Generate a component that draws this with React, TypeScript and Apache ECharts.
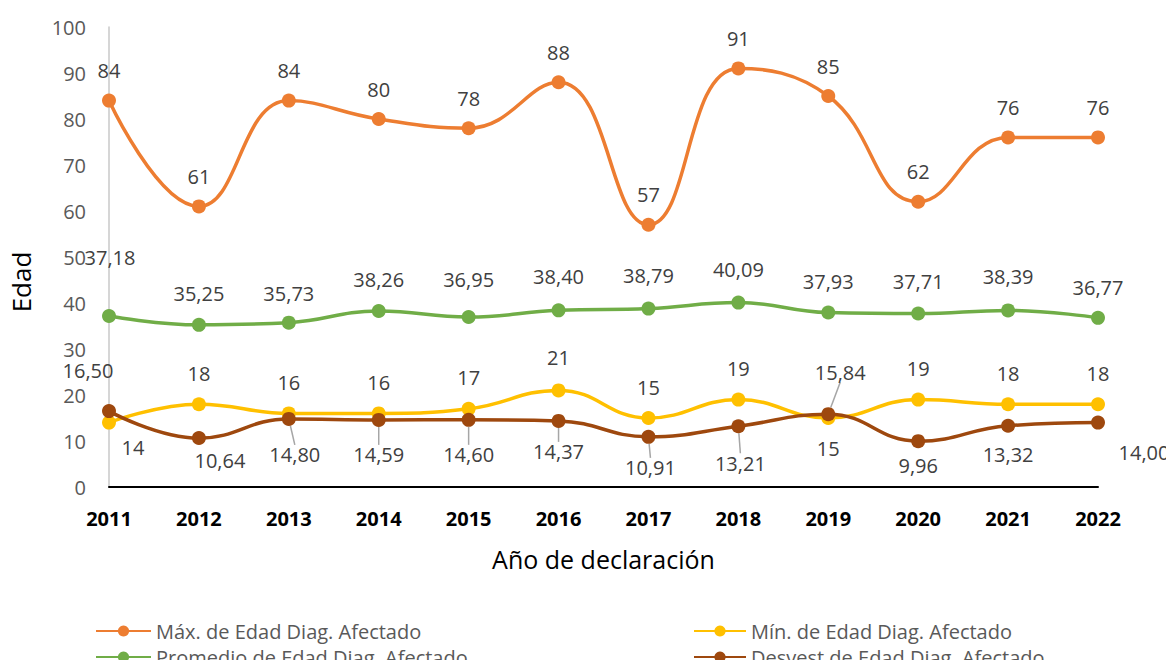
import React, { useEffect, useRef } from "react";
import * as echarts from "echarts";

const years = ["2011", "2012", "2013", "2014", "2015", "2016", "2017", "2018", "2019", "2020", "2021", "2022"];
const maxValues = [84, 61, 84, 80, 78, 88, 57, 91, 85, 62, 76, 76];
const minValues = [14, 18, 16, 16, 17, 21, 15, 19, 15, 19, 18, 18];
const avgValues = [37.18, 35.25, 35.73, 38.26, 36.95, 38.4, 38.79, 40.09, 37.93, 37.71, 38.39, 36.77];
const sdValues = [16.5, 10.64, 14.8, 14.59, 14.6, 14.37, 10.91, 13.21, 15.84, 9.96, 13.32, 14.0];

const seriesNames = [
  "Máx. de Edad Diag. Afectado",
  "Mín. de Edad Diag. Afectado",
  "Promedio de Edad Diag. Afectado",
  "Desvest de Edad Diag. Afectado",
];
const colors = ["#ED7D31", "#FFC000", "#70AD47", "#9E480E"];

// label placement (offset of label centre from point, px)
const maxOffsets = years.map(() => [0, -30]);
const minOffsets = [[24, 25], [0, -31], [0, -31], [0, -31], [0, -31], [0, -33], [0, -31], [0, -31], [0, 30], [0, -31], [0, -31], [0, -31]];
const avgOffsets = [[1, -58], [0, -31], [0, -29], [0, -32], [0, -38], [0, -34], [0, -33], [0, -33], [0, -31], [0, -32], [0, -34], [0, -30]];
const sdOffsets = [[-21, -41], [21, 22], [6, 36], [0, 35], [0, 35], [0, 31], [2, 31], [2, 37], [12, -42], [0, 24], [0, 29], [46, 30]];
const sdLeader = [false, false, true, true, true, true, true, true, true, false, false, false];

const fmt = (v: number, dec: number) => v.toFixed(dec).replace(".", ",");

export default function App() {
  const ref = useRef<HTMLDivElement>(null);
  useEffect(() => {
    const chart = echarts.init(ref.current!, undefined, { renderer: "svg" });
    const font = "'Open Sans', sans-serif";
    const labelBase = {
      show: true,
      position: "inside" as const,
      fontFamily: font,
      fontSize: 20,
      color: "#404040",
    };
    const mk = (idx: number, values: number[], dec: number, offsets: number[][], leader?: boolean[]) => ({
      name: seriesNames[idx],
      type: "line",
      data: values.map((v, i) => ({
        value: v,
        labelLine: { show: leader ? leader[i] : false },
      })),
      smooth: 0.45,
      symbol: "circle",
      symbolSize: 14,
      showAllSymbol: true,
      z: idx === 3 ? 4 : 3,
      lineStyle: { color: colors[idx], width: 3.5 },
      itemStyle: { color: colors[idx] },
      label: { ...labelBase, formatter: (p: any) => fmt(p.value, dec) },
      labelLine: { show: false, lineStyle: { color: "#a6a6a6", width: 1.5 } },
      labelLayout: (p: any) => ({ dx: offsets[p.dataIndex][0], dy: offsets[p.dataIndex][1] }),
      emphasis: { disabled: true },
    });
    const legendText = { fontFamily: font, fontSize: 20, lineHeight: 20, color: "#595959" };
    chart.setOption({
      animation: false,
      backgroundColor: "#ffffff",
      grid: { left: 106, right: 76, top: 27, bottom: 181 },
      legend: [
        {
          data: [seriesNames[0], seriesNames[2]],
          orient: "vertical",
          left: 90,
          top: 616,
          height: 60,
          itemWidth: 55,
          itemHeight: 14,
          itemGap: 6,
          textStyle: legendText,
        },
        {
          data: [seriesNames[1], seriesNames[3]],
          orient: "vertical",
          left: 688,
          top: 616,
          height: 60,
          itemWidth: 52,
          itemHeight: 14,
          itemGap: 6,
          textStyle: legendText,
        },
      ],
      xAxis: {
        type: "category",
        data: years,
        boundaryGap: false,
        name: "Año de declaración",
        nameLocation: "middle",
        nameGap: 59,
        nameTextStyle: { fontFamily: font, fontSize: 25, color: "#000000" },
        axisLine: { lineStyle: { color: "#000000", width: 2 } },
        axisTick: { show: false },
        axisLabel: { fontFamily: font, fontSize: 20, fontWeight: "bold", color: "#000000", margin: 21 },
        splitLine: { show: false },
      },
      yAxis: {
        type: "value",
        min: 0,
        max: 100,
        interval: 10,
        name: "Edad",
        nameLocation: "middle",
        nameGap: 75,
        nameTextStyle: { fontFamily: font, fontSize: 26, color: "#000000", padding: [0, 50, 0, 0] },
        axisLine: { show: true, lineStyle: { color: "#c8c8c8", width: 1.5 } },
        axisTick: { show: false },
        axisLabel: { fontFamily: font, fontSize: 20, color: "#595959", margin: 23 },
        splitLine: { show: false },
      },
      series: [
        mk(0, maxValues, 0, maxOffsets),
        mk(1, minValues, 0, minOffsets),
        mk(2, avgValues, 2, avgOffsets),
        mk(3, sdValues, 2, sdOffsets, sdLeader),
      ],
    });
    return () => chart.dispose();
  }, []);
  return <div ref={ref} style={{ width: 1174, height: 668, margin: -8 }} />;
}
